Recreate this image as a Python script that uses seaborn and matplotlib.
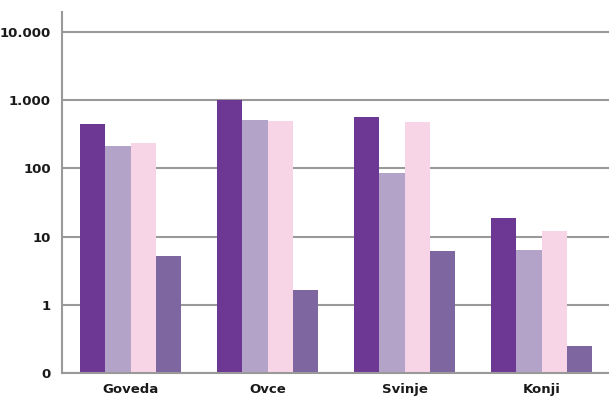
import pandas as pd
import seaborn as sns
import matplotlib.pyplot as plt
from matplotlib.ticker import FixedLocator

categories = ['Goveda', 'Ovce', 'Svinje', 'Konji']
series_names = ['A', 'B', 'C', 'D']
series_a = [452, 1000, 567, 18.7]
series_b = [213, 513, 86, 6.35]
series_c = [235, 495, 479, 12.1]
series_d = [5.2, 1.65, 6.15, 0.25]
tick_values = [0.1, 1, 10, 100, 1000, 10000]
tick_labels = ['0', '1', '10', '100', '1.000', '10.000']
colors = ['#6D3893', '#B3A3C9', '#F8D5E6', '#7E66A1']

rows = []
for name, vals in zip(series_names, [series_a, series_b, series_c, series_d]):
    for cat, v in zip(categories, vals):
        rows.append({'kat': cat, 'serija': name, 'vrijednost': v})
data = pd.DataFrame(rows)

sns.set_style('white')
plt.rcParams['font.family'] = ['DejaVu Sans']

fig = plt.figure(figsize=(6.09, 4.01), dpi=100)
ax = fig.add_axes([62 / 609, 28 / 401, 548 / 609, 361 / 401])

sns.barplot(data=data, x='kat', y='vrijednost', hue='serija', order=categories,
            hue_order=series_names, palette=colors, width=0.73, gap=0,
            saturation=1, legend=False, ax=ax, linewidth=0)
ax.set_yscale('log')
ax.set_ylim(0.1, 19600)
ax.set_xlim(-0.5, 3.5)

ax.yaxis.set_major_locator(FixedLocator(tick_values))
ax.yaxis.set_minor_locator(FixedLocator([]))
ax.set_yticklabels(tick_labels)
ax.grid(axis='y', color='#999999', linewidth=1.5, zorder=0)
ax.set_axisbelow(True)

ax.set_xticks([-0.5, 0.5, 1.5, 2.5, 3.5], minor=True)
ax.tick_params(axis='x', which='major', length=0, pad=7, labelsize=9.5)
ax.tick_params(axis='x', which='minor', length=5, width=1.2, color='#999999', direction='out')
ax.tick_params(axis='y', length=5, width=1.2, color='#999999', direction='out', labelsize=9.5, pad=3)
for lab in ax.get_xticklabels() + ax.get_yticklabels():
    lab.set_fontweight('bold')
    lab.set_color('#1a1a1a')

for side in ['top', 'right']:
    ax.spines[side].set_visible(False)
for side in ['left', 'bottom']:
    ax.spines[side].set_color('#999999')
    ax.spines[side].set_linewidth(1.5)

ax.set_xlabel('')
ax.set_ylabel('')

fig.savefig('out.png', dpi=100)
